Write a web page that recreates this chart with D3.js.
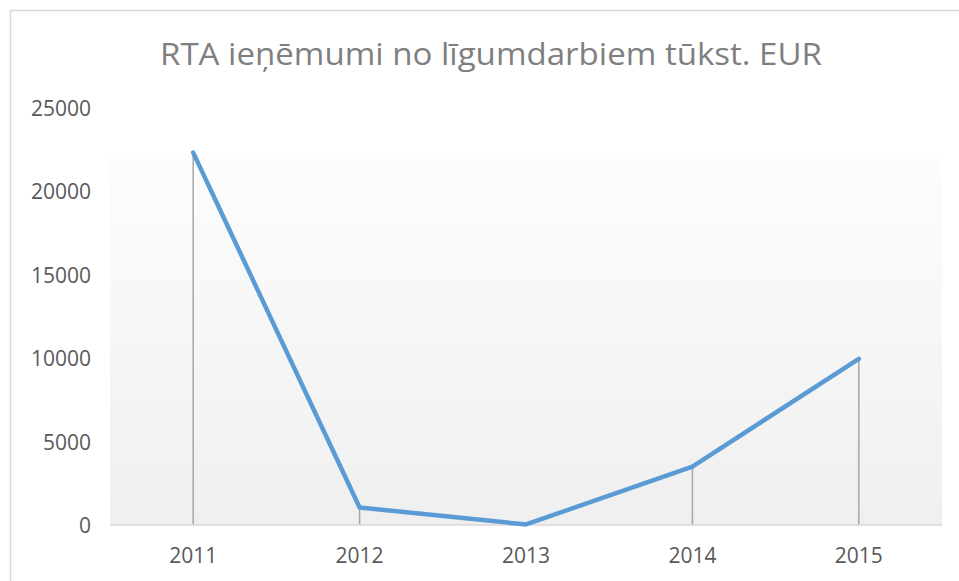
<!DOCTYPE html>
<html>
<head>
<meta charset="utf-8">
<script src="https://cdn.jsdelivr.net/npm/d3@7"></script>
<style>
  html, body { margin: 0; padding: 0; background: #fff; }
  svg { display: block; font-family: "Open Sans", sans-serif; }
</style>
</head>
<body>
<svg id="chart"></svg>
<script>
// chart data
const years = ["2011", "2012", "2013", "2014", "2015"];
const revenue = [22300, 1050, 30, 3500, 9950];
const yTicks = [0, 5000, 10000, 15000, 20000, 25000];
const chartTitle = "RTA ieņēmumi no līgumdarbiem tūkst. EUR";

const W = 959, H = 581;
const margin = { top: 107.5, right: 17, bottom: 56, left: 110 };
const width = W - margin.left - margin.right;
const height = H - margin.top - margin.bottom;

const svg = d3.select("#chart").attr("width", W).attr("height", H);

// outer chart border (cropped on right and bottom)
svg.append("path")
    .attr("d", "M10.5," + H + "V10.5H" + W)
    .attr("fill", "none")
    .attr("stroke", "#d9d9d9")
    .attr("stroke-width", 1.5);

// title - stretched a little, the original font is wider
svg.append("text")
    .attr("x", 491)
    .attr("y", 65)
    .attr("text-anchor", "middle")
    .attr("fill", "#7f7f7f")
    .attr("textLength", 662)
    .attr("lengthAdjust", "spacingAndGlyphs")
    .style("font-size", "31px")
    .text(chartTitle);

const g = svg.append("g").attr("transform", "translate(" + margin.left + "," + margin.top + ")");

const x = d3.scaleBand().domain(years).range([0, width]);
const y = d3.scaleLinear().domain([0, 25000]).range([height, 0]);

// plot area gradient
const grad = svg.append("defs").append("linearGradient")
    .attr("id", "plotFill").attr("x1", 0).attr("y1", 0).attr("x2", 0).attr("y2", 1);
grad.append("stop").attr("offset", "0%").attr("stop-color", "#fdfdfd");
grad.append("stop").attr("offset", "100%").attr("stop-color", "#efefef");

const fillTop = 45; // plot fill starts a bit below the top tick
g.append("rect")
    .attr("x", 0).attr("y", fillTop)
    .attr("width", width).attr("height", height - fillTop)
    .attr("fill", "url(#plotFill)");

// y axis labels
g.selectAll(".ylab")
    .data(yTicks)
    .join("text")
    .attr("class", "ylab")
    .attr("x", -19)
    .attr("y", d => y(d) + 8)
    .attr("text-anchor", "end")
    .attr("fill", "#595959")
    .style("font-size", "21px")
    .text(d => d);

// x axis labels
g.selectAll(".xlab")
    .data(years)
    .join("text")
    .attr("class", "xlab")
    .attr("x", d => x(d) + x.bandwidth() / 2)
    .attr("y", height + 38)
    .attr("text-anchor", "middle")
    .attr("fill", "#595959")
    .style("font-size", "21px")
    .text(d => d);

// drop lines
g.selectAll(".drop")
    .data(years)
    .join("line")
    .attr("class", "drop")
    .attr("x1", d => x(d) + x.bandwidth() / 2)
    .attr("x2", d => x(d) + x.bandwidth() / 2)
    .attr("y1", height)
    .attr("y2", (d, i) => y(revenue[i]))
    .attr("stroke", "#a6a6a6")
    .attr("stroke-width", 1.5);

// x axis line
g.append("line")
    .attr("x1", 0).attr("x2", width)
    .attr("y1", height).attr("y2", height)
    .attr("stroke", "#d9d9d9")
    .attr("stroke-width", 1.5);

// revenue line
const line = d3.line()
    .x((d, i) => x(years[i]) + x.bandwidth() / 2)
    .y(d => y(d));

g.append("path")
    .datum(revenue)
    .attr("d", line)
    .attr("fill", "none")
    .attr("stroke", "#5b9bd5")
    .attr("stroke-width", 4.5)
    .attr("stroke-linejoin", "round")
    .attr("stroke-linecap", "round");
</script>
</body>
</html>
